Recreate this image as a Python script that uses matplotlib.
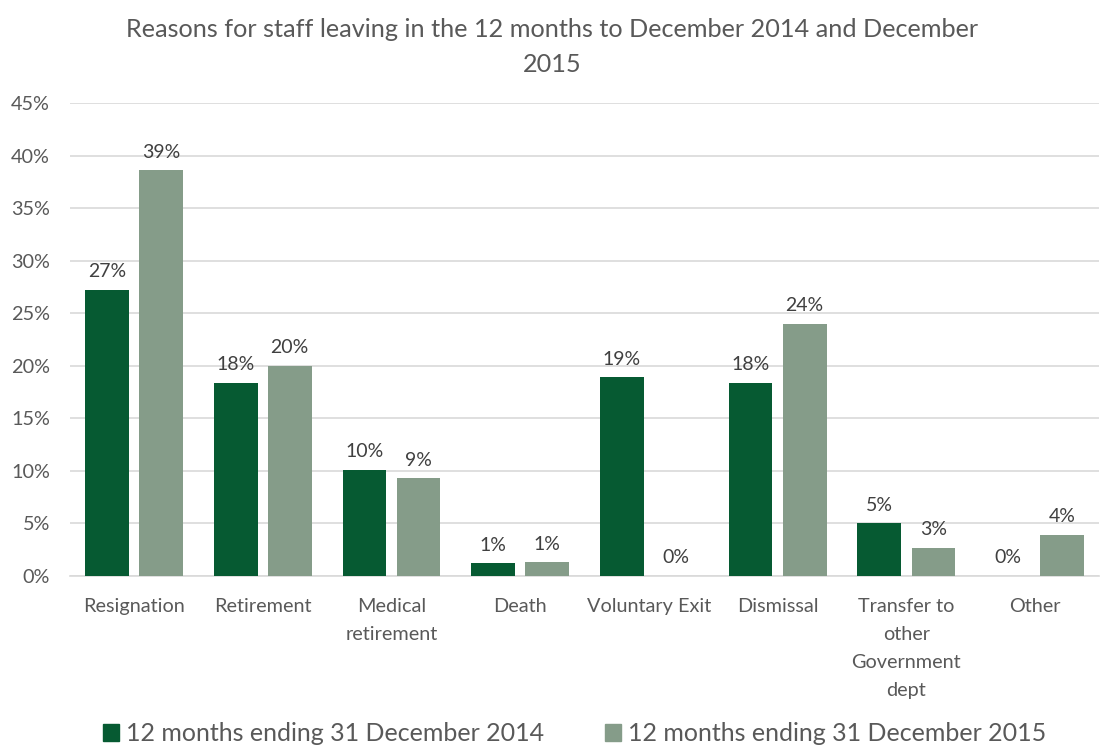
import numpy as np
import matplotlib.pyplot as plt
from matplotlib.patches import Patch

categories = ['Resignation', 'Retirement', 'Medical\nretirement', 'Death',
              'Voluntary Exit', 'Dismissal', 'Transfer to\nother\nGovernment\ndept', 'Other']
dec_2014 = [27.2, 18.4, 10.1, 1.2, 18.9, 18.4, 5.0, 0.0]
dec_2015 = [38.6, 20.0, 9.3, 1.3, 0.0, 24.0, 2.7, 3.9]
series_names = ['12 months ending 31 December 2014', '12 months ending 31 December 2015']
yticks = [0, 5, 10, 15, 20, 25, 30, 35, 40, 45]

dark = '#065a32'
light = '#859c89'
grey = '#595959'

plt.rcParams['font.family'] = ['Lato', 'DejaVu Sans']

fig = plt.figure(figsize=(11.05, 7.45), dpi=100)
ax = fig.add_axes([0.063, 0.2268, 0.932, 0.6349])

x = np.arange(len(categories))
w = 0.34
off = 0.21
b1 = ax.bar(x - off, dec_2014, w, color=dark, zorder=3)
b2 = ax.bar(x + off, dec_2015, w, color=light, zorder=3)

for bars, vals in ((b1, dec_2014), (b2, dec_2015)):
    for rect, v in zip(bars, vals):
        ax.annotate(f'{v:.0f}%', (rect.get_x() + rect.get_width() / 2, v),
                    xytext=(0, 7), textcoords='offset points',
                    ha='center', va='bottom', fontsize=14, color='#404040')

ax.set_xlim(-0.5, len(categories) - 0.5)
ax.set_ylim(0, 45)
ax.set_yticks(yticks)
ax.set_yticklabels([f'{t}%' for t in yticks])
ax.set_xticks(x)
ax.set_xticklabels(categories, linespacing=1.78)
ax.tick_params(axis='both', length=0, labelsize=14.3, colors=grey)
ax.tick_params(axis='x', pad=16)
ax.tick_params(axis='y', pad=14)
ax.yaxis.grid(True, color='#d9d9d9', linewidth=1.2, zorder=0)
for s in ('top', 'right', 'left'):
    ax.spines[s].set_visible(False)
ax.spines['bottom'].set_color('#d9d9d9')
ax.spines['bottom'].set_linewidth(1.2)

fig.text(0.5, 0.937, 'Reasons for staff leaving in the 12 months to December 2014 and December\n2015',
         ha='center', va='center', fontsize=18.2, color=grey, linespacing=1.6)

handles = [Patch(color=dark), Patch(color=light)]
fig.legend(handles, series_names, loc='center', bbox_to_anchor=(0.52, 0.015), ncol=2,
           frameon=False, fontsize=18, labelcolor=grey, handlelength=0.65, handleheight=0.65,
           handletextpad=0.3, columnspacing=2.4)

fig.savefig('out.png', dpi=100)
